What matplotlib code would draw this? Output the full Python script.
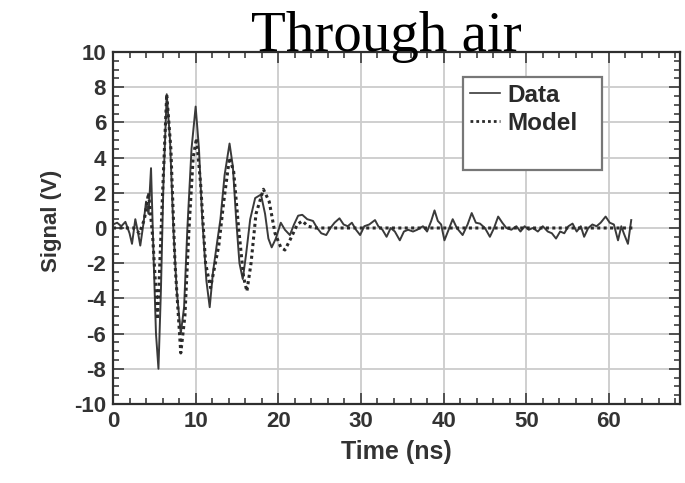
import matplotlib
matplotlib.use("Agg")
import matplotlib.pyplot as plt
from matplotlib.lines import Line2D
from matplotlib.ticker import MultipleLocator

plt.rcParams["axes.unicode_minus"] = False

# Measured waveform (time in ns, signal in V)
data_t = [0.0, 0.5, 1.0, 1.5, 2.0, 2.3, 2.7, 3.0, 3.3, 3.7, 4.0, 4.3, 4.6, 4.9,
          5.2, 5.5, 5.8, 6.1, 6.5, 6.9, 7.3, 7.7, 8.2, 8.6, 9.0, 9.5, 10.0, 10.4,
          10.8, 11.3, 11.7, 12.1, 12.6, 13.0, 13.5, 14.1, 14.5, 14.9, 15.3, 15.7,
          16.1, 16.6, 17.2, 17.9, 18.4, 18.8, 19.2, 19.7, 20.3, 20.8, 21.4, 21.9,
          22.4, 22.9, 23.5, 24.2, 24.7, 25.2, 25.8, 26.3, 26.8, 27.4, 27.9, 28.4,
          28.9, 29.4, 29.9, 30.4, 31.0, 31.7, 32.1, 32.6, 33.1, 33.6, 34.1, 34.7,
          35.2, 35.7, 36.3, 36.8, 37.5, 38.0, 38.5, 38.9, 39.3, 39.7, 40.1, 40.6,
          41.1, 41.6, 42.3, 42.9, 43.4, 43.9, 44.4, 45.0, 45.6, 46.1, 46.6, 47.1,
          47.6, 48.2, 48.8, 49.3, 49.8, 50.3, 50.8, 51.4, 52.0, 52.6, 53.1, 53.6,
          54.1, 54.6, 55.1, 55.6, 56.1, 56.6, 57.0, 57.5, 58.0, 58.5, 59.0, 59.6,
          60.1, 60.6, 61.1, 61.5, 61.8, 62.3, 62.7]
data_v = [0.2, 0.3, 0.1, 0.35, -0.3, -0.9, 0.5, -0.2, -1.0, 0.3, 1.5, 0.8, 3.4, -1.5,
          -6.0, -8.0, -3.5, 2.5, 7.6, 5.0, 0.0, -3.5, -6.0, -4.5, 0.0, 4.5, 6.9, 4.5,
          0.5, -3.0, -4.5, -2.5, -0.8, 0.5, 3.0, 4.8, 3.5, 0.5, -2.0, -2.9,
          -1.5, 0.5, 1.7, 1.9, 0.8, -0.6, -1.1, -0.6, 0.3, -0.1, -0.4, 0.2,
          0.7, 0.75, 0.5, 0.4, 0.0, -0.3, -0.4, 0.0, 0.3, 0.55, 0.2, 0.1,
          0.3, -0.1, -0.4, 0.1, 0.2, 0.45, 0.1, -0.1, -0.5, 0.0, -0.2, -0.7,
          -0.2, -0.1, -0.2, -0.1, 0.1, -0.2, 0.4, 1.0, 0.4, 0.2, -0.7, -0.1,
          0.5, 0.0, -0.4, 0.2, 0.85, 0.3, 0.25, 0.0, -0.5, 0.0, 0.65, 0.3,
          0.0, -0.1, 0.1, -0.2, 0.1, -0.1, 0.0, -0.2, 0.1, -0.2, -0.3, -0.6,
          -0.2, -0.3, 0.1, 0.25, -0.2, 0.1, -0.5, 0.0, 0.2, 0.1, 0.3, 0.65,
          0.3, 0.2, -0.7, 0.1, -0.3, -0.9, 0.45]

# Model waveform
model_t = [0.0, 2.5, 3.2, 3.8, 4.3, 4.8, 5.4, 6.0, 6.5, 7.0, 7.5, 8.2, 8.7, 9.2,
           9.7, 10.1, 10.6, 11.2, 11.8, 12.3, 12.8, 13.4, 14.1, 14.6, 15.2, 15.8,
           16.2, 16.7, 17.3, 18.2, 18.9, 19.6, 20.3, 20.8, 21.5, 22.3, 22.9, 23.6,
           24.5, 63.0]
model_v = [0.0, 0.0, -0.3, 0.5, 2.0, -0.5, -5.2, 2.0, 7.6, 4.5, -2.0, -7.1, -5.0, 0.0,
           4.0, 5.1, 2.5, -2.0, -3.4, -2.2, -1.0, 1.5, 4.0, 3.2, 0.0, -2.8,
           -3.6, -2.0, 0.8, 2.2, 1.5, -0.3, -1.1, -1.25, -0.6, 0.2, 0.4, 0.1,
           0.0, 0.0]

x_ticks = [0, 10, 20, 30, 40, 50, 60]
y_ticks = [-10, -8, -6, -4, -2, 0, 2, 4, 6, 8, 10]

W, H = 685, 483
fig = plt.figure(figsize=(W / 100, H / 100), dpi=100)
fig.patch.set_facecolor("white")

left, right, top, bottom = 113, 680, 52, 404
ax = fig.add_axes([left / W, 1 - bottom / H, (right - left) / W, (bottom - top) / H])

ink = "#2e2e2e"
label_font = dict(family="Liberation Sans", weight="bold", color="#333333")

ax.plot(data_t, data_v, color="#3a3a3a", lw=1.4, solid_joinstyle="round")
ax.plot(model_t, model_v, color="#2a2a2a", lw=2.2, linestyle=(0, (1, 1.1)))

ax.set_xlim(0, 68.6)
ax.set_ylim(-10, 10)
ax.set_xticks(x_ticks)
ax.set_yticks(y_ticks)
ax.xaxis.set_minor_locator(MultipleLocator(2))
ax.yaxis.set_minor_locator(MultipleLocator(0.5))
ax.grid(True, which="major", color="#cccccc", lw=1.3)
ax.set_axisbelow(True)

ax.tick_params(which="both", direction="in", top=True, right=True, color=ink, width=1.1)
ax.tick_params(which="major", length=8, labelsize=16, pad=5)
ax.tick_params(which="minor", length=4.5)
for lab in ax.get_xticklabels() + ax.get_yticklabels():
    lab.set_fontfamily("Liberation Sans")
    lab.set_fontweight("bold")
    lab.set_color("#333333")

for s in ax.spines.values():
    s.set_color(ink)
    s.set_linewidth(1.6)

ax.set_xlabel("Time (ns)", fontsize=18, labelpad=6, **label_font)
ax.set_ylabel("Signal (V)", fontsize=16, labelpad=4, **label_font)
ax.yaxis.set_label_coords(-0.09, 0.52)

handles = [Line2D([], [], color="#3a3a3a", lw=1.2),
           Line2D([], [], color="#2a2a2a", lw=2.0, linestyle=(0, (1, 1.1))),
           Line2D([], [], color="none")]
leg = ax.legend(handles, ["Data", "Model", " "], loc="upper left", mode="expand",
                bbox_to_anchor=(463 / W, 1 - 82 / H, 139 / W, 0.01),
                bbox_transform=fig.transFigure,
                frameon=True, fancybox=False, handlelength=1.25, handletextpad=0.3,
                borderpad=0.28, labelspacing=0.2, borderaxespad=0,
                prop=dict(family="Liberation Sans", weight="bold", size=17.5))
leg.get_frame().set_edgecolor("#777777")
leg.get_frame().set_linewidth(1.6)
leg.get_frame().set_alpha(1)
for t in leg.get_texts():
    t.set_color("#2a2a2a")

fig.text(386 / W, 1 - 51 / H, "Through air", family="Liberation Serif", fontsize=41,
         ha="center", va="baseline", color="black")

fig.savefig("out.png", dpi=100)
